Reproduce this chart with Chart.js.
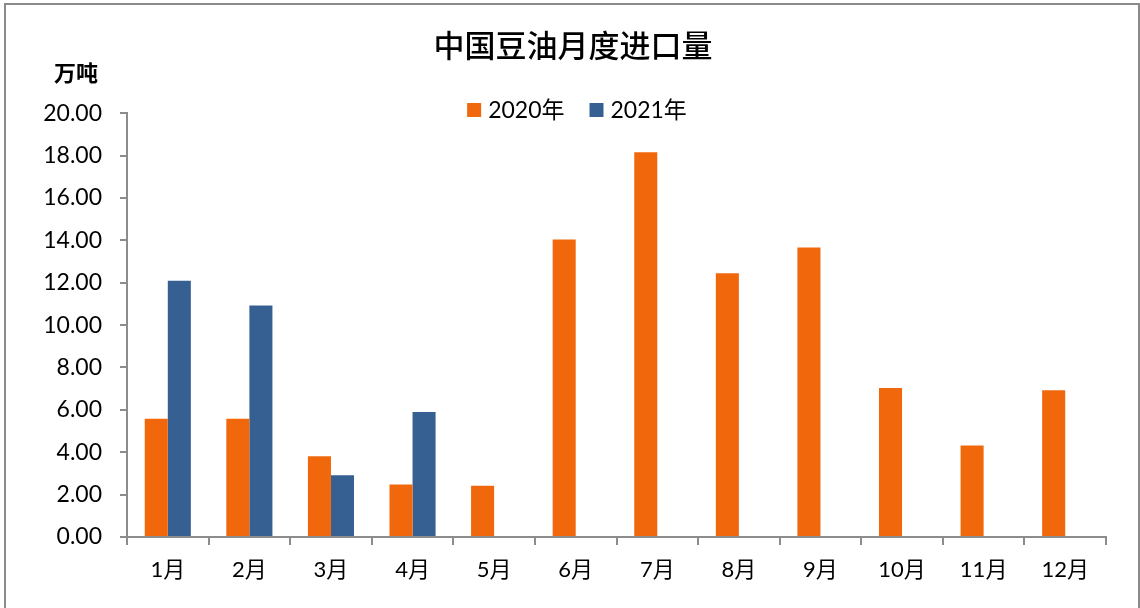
<!DOCTYPE html>
<html>
<head>
<meta charset="utf-8">
<script src="https://cdn.jsdelivr.net/npm/chart.js@4.4.0/dist/chart.umd.min.js"></script>
<style>
  html, body { margin: 0; padding: 0; background: #fff; }
  #wrap { width: 1140px; height: 608px; position: relative; }
</style>
</head>
<body>
<div id="wrap"><canvas id="chart" width="1140" height="608"></canvas></div>
<script>
// data
const months = ['1月', '2月', '3月', '4月', '5月', '6月', '7月', '8月', '9月', '10月', '11月', '12月'];
const imports2020 = [5.58, 5.58, 3.81, 2.48, 2.42, 14.04, 18.16, 12.45, 13.66, 7.03, 4.32, 6.93];
const imports2021 = [12.09, 10.93, 2.92, 5.90, null, null, null, null, null, null, null, null];
const seriesNames = ['2020年', '2021年'];
const yMax = 20;
const yStep = 2;

const ORANGE = '#F0670C';
const BLUE = '#366092';
const AXIS = '#8c8c8c';
const NUM_FONT = "Lato, 'Noto Sans CJK SC', sans-serif";
const CJK_FONT = "'Noto Sans CJK SC', sans-serif";

// white page + grey frame round the picture
const framePlugin = {
    id: 'frame',
    beforeDraw(chart) {
        const ctx = chart.ctx;
        ctx.save();
        ctx.fillStyle = '#fff';
        ctx.fillRect(0, 0, chart.width, chart.height);
        ctx.strokeStyle = '#8a8a8a';
        ctx.lineWidth = 2;
        ctx.strokeRect(5, 4, 1134, 700);
        ctx.restore();
    }
};

// unit label above the y axis
const unitPlugin = {
    id: 'unit',
    afterDraw(chart) {
        const ctx = chart.ctx;
        const area = chart.chartArea;
        ctx.save();
        ctx.font = "bold 22px " + CJK_FONT;
        ctx.fillStyle = '#000';
        ctx.textAlign = 'center';
        ctx.textBaseline = 'middle';
        ctx.fillText('万吨', area.left - 51, area.top - 41);
        ctx.restore();
    }
};

// legend sits over the top of the plot, so draw it by hand
const legendPlugin = {
    id: 'topLegend',
    afterDraw(chart) {
        const ctx = chart.ctx;
        const sets = chart.data.datasets;
        const box = 14, gap = 7, between = 25;
        ctx.save();
        ctx.font = "23px " + NUM_FONT;
        let total = 0;
        const widths = sets.map(ds => ctx.measureText(ds.label).width);
        widths.forEach((w, i) => { total += box + gap + w + (i ? between : 0); });
        let x = 577 - total / 2;
        const y = 110;
        sets.forEach((ds, i) => {
            ctx.fillStyle = ds.backgroundColor;
            ctx.fillRect(x, y - box / 2, box, box);
            ctx.fillStyle = '#000';
            ctx.textAlign = 'left';
            ctx.textBaseline = 'middle';
            ctx.fillText(ds.label, x + box + gap, y + 1);
            x += box + gap + widths[i] + between;
        });
        ctx.restore();
    }
};

new Chart(document.getElementById('chart'), {
    type: 'bar',
    data: {
        labels: months,
        datasets: [
            {label: seriesNames[0], data: imports2020, backgroundColor: ORANGE},
            {label: seriesNames[1], data: imports2021, backgroundColor: BLUE}
        ]
    },
    options: {
        responsive: false,
        animation: false,
        events: [],
        categoryPercentage: 0.565,
        barPercentage: 1,
        layout: {padding: {left: 40, right: 34, top: 0, bottom: 0}},
        plugins: {
            legend: {display: false},
            tooltip: {enabled: false},
            title: {
                display: true,
                text: '中国豆油月度进口量',
                color: '#000',
                font: {family: CJK_FONT, size: 31, weight: 500, lineHeight: 1.2},
                padding: {top: 27, bottom: 49}
            }
        },
        scales: {
            x: {
                grid: {display: true, drawOnChartArea: false, drawTicks: true, tickLength: 8, color: AXIS, lineWidth: 2, offset: true},
                border: {display: true, color: AXIS, width: 2},
                ticks: {color: '#000', font: {family: NUM_FONT, size: 22}, padding: 12, maxRotation: 0},
                afterFit(scale) { scale.height = 71; }
            },
            y: {
                min: 0,
                max: yMax,
                grid: {display: true, drawOnChartArea: false, drawTicks: true, tickLength: 7, color: AXIS, lineWidth: 2},
                border: {display: true, color: AXIS, width: 2},
                ticks: {
                    stepSize: yStep,
                    color: '#000',
                    font: {family: NUM_FONT, size: 23},
                    padding: 18,
                    callback: v => Number(v).toFixed(2)
                },
                afterFit(scale) { scale.width = 87; }
            }
        }
    },
    plugins: [framePlugin, unitPlugin, legendPlugin]
});
</script>
</body>
</html>
